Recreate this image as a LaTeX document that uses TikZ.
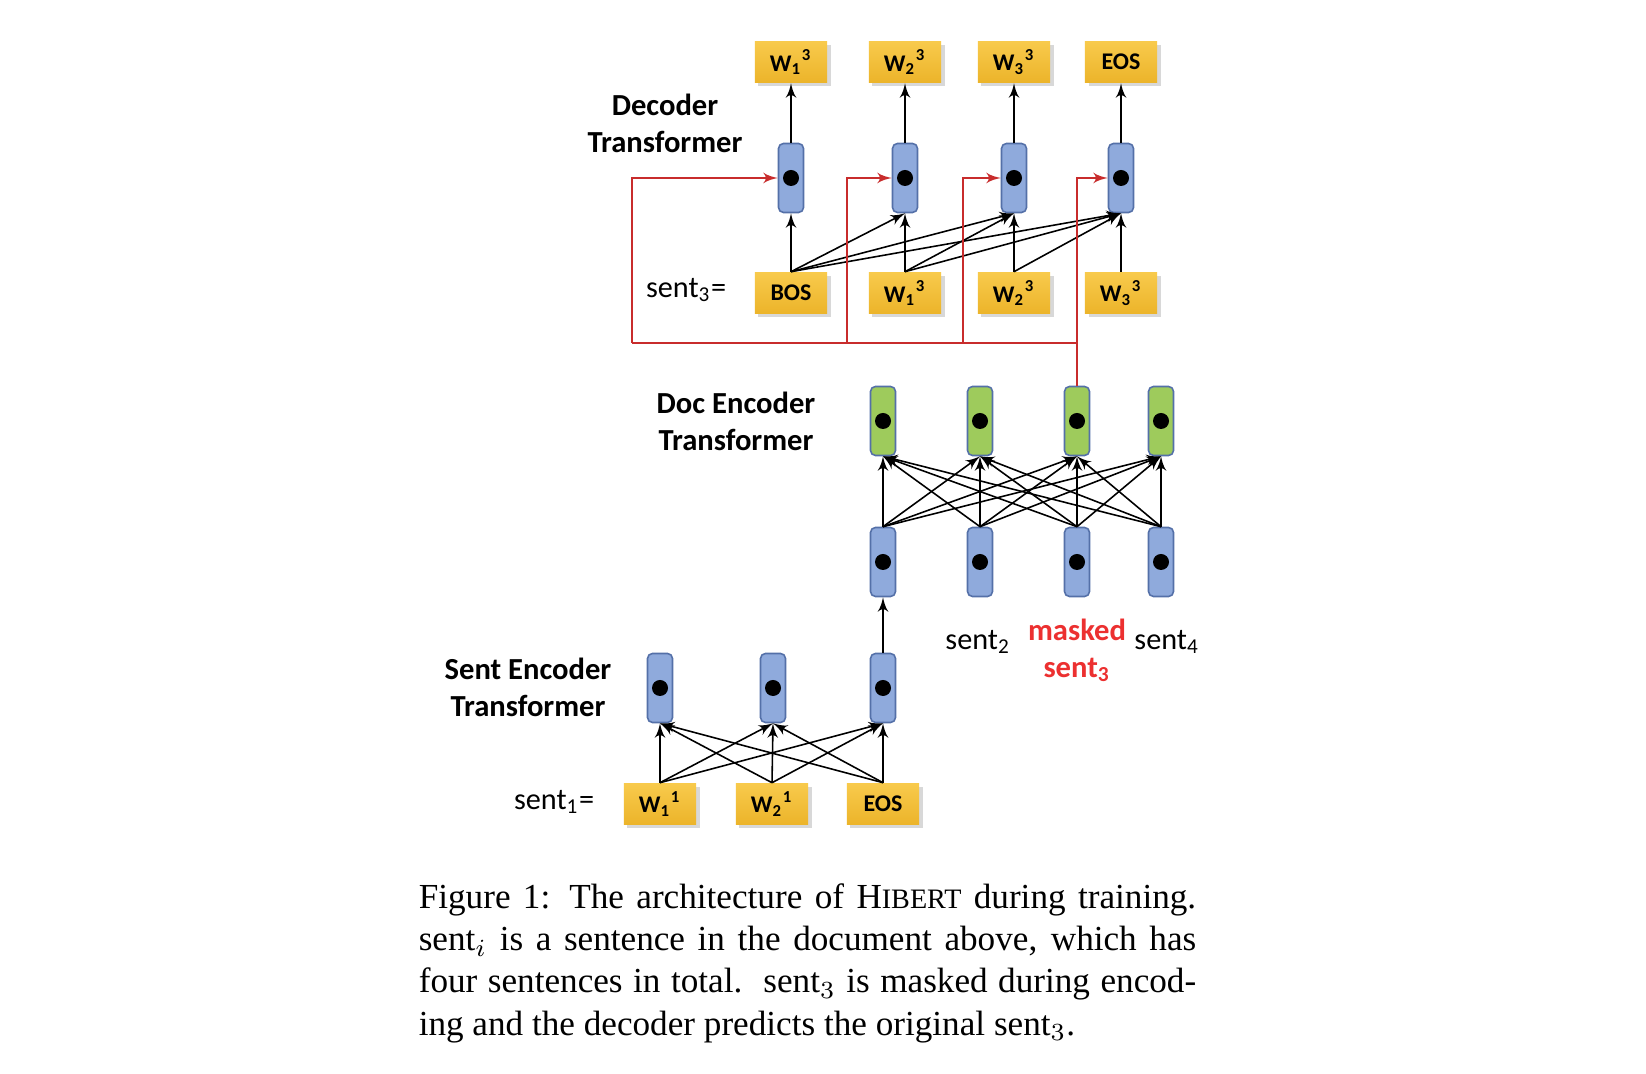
\documentclass[tikz,border=0pt]{standalone}
\usepackage{fontspec}
\setmainfont{Liberation Serif}
\newfontfamily\calibri{Carlito}
\usepackage{tikz}
\usetikzlibrary{positioning,arrows,shadows}

\definecolor{tokyellow}{RGB}{248,202,76}
\definecolor{tokyellowdark}{RGB}{236,180,42}
\definecolor{vecblue}{RGB}{143,170,220}
\definecolor{vecblueline}{RGB}{84,112,168}
\definecolor{vecgreen}{RGB}{158,203,92}
\definecolor{maskred}{RGB}{236,48,48}
\definecolor{linkred}{RGB}{200,44,44}

\begin{document}
\begin{tikzpicture}[->,>=latex',x=0.01cm,y=-0.01cm,line width=0.45pt,
                    font=\calibri]
  \tikzstyle{word}=[rectangle, minimum width=0.72cm, minimum height=0.41cm,
     inner sep=0pt, top color=tokyellow, bottom color=tokyellowdark,
     drop shadow={opacity=0.3, shadow xshift=0.035cm, shadow yshift=-0.035cm},
     font=\calibri\bfseries\fontsize{6.8}{8}\selectfont]
  \tikzstyle{vec}=[rectangle, rounded corners=0.05cm, minimum width=0.25cm,
     minimum height=0.69cm, inner sep=0pt, fill=vecblue, draw=vecblueline,
     path picture={\fill[black] (path picture bounding box.center) circle (0.08cm);}]
  \tikzstyle{docvec}=[vec, fill=vecgreen]
  \tikzstyle{layer}=[align=center, inner sep=0pt,
     font=\calibri\bfseries\fontsize{8.7}{10.6}\selectfont]
  \tikzstyle{sent}=[inner sep=0pt, font=\calibri\fontsize{8.6}{10}\selectfont]

  \path[use as bounding box, fill=white] (0,0) rectangle (1646,1074);

  % decoder
  \foreach \i/\x in {1/791,2/905,3/1014,4/1121}
    \node[vec] (dec\i) at (\x,178) {};
  \node[word] (out1) at (791,62) {W\textsubscript{1}\textsuperscript{3}};
  \node[word] (out2) at (905,62) {W\textsubscript{2}\textsuperscript{3}};
  \node[word] (out3) at (1014,62) {W\textsubscript{3}\textsuperscript{3}};
  \node[word] (out4) at (1121,62) {EOS};
  \node[word] (in1) at (791,293) {BOS};
  \node[word] (in2) at (905,293) {W\textsubscript{1}\textsuperscript{3}};
  \node[word] (in3) at (1014,293) {W\textsubscript{2}\textsuperscript{3}};
  \node[word] (in4) at (1121,293) {W\textsubscript{3}\textsuperscript{3}};

  % doc encoder
  \foreach \i/\x in {1/883,2/980,3/1077,4/1161} {
    \node[docvec] (doc\i) at (\x,421) {};
    \node[vec] (sen\i) at (\x,562) {};
  }

  % sent encoder
  \foreach \i/\x in {1/660,2/773,3/883}
    \node[vec] (enc\i) at (\x,688) {};
  \node[word] (tok1) at (660,804) {W\textsubscript{1}\textsuperscript{1}};
  \node[word] (tok2) at (772,804) {W\textsubscript{2}\textsuperscript{1}};
  \node[word] (tok3) at (883,804) {EOS};

  % labels
  \node[layer, anchor=base] (declab) at (665,153) {Decoder\\Transformer};
  \node[layer, anchor=base] (doclab) at (736,451) {Doc Encoder\\Transformer};
  \node[layer, anchor=base] (enclab) at (528,717) {Sent Encoder\\Transformer};
  \node[sent, anchor=base east] (s3lab) at (727,298) {sent\textsubscript{3}=};
  \node[sent, anchor=base east] (s1lab) at (595,810) {sent\textsubscript{1}=};
  \node[sent, anchor=base] (s2) at (978,650) {sent\textsubscript{2}};
  \node[layer, text=maskred, anchor=base] (s3) at (1077,678) {masked\\sent\textsubscript{3}};
  \node[sent, anchor=base] (s4) at (1167,650) {sent\textsubscript{4}};

  % connections
  \foreach \i in {1,...,4} {
    \draw (dec\i) -- (out\i);
    \draw (in\i) -- (dec\i);
  }
  \foreach \i/\j in {1/2,1/3,1/4,2/3,2/4,3/4}
    \draw (in\i.north) -- (dec\j.south);
  \foreach \i in {1,...,4}
    \foreach \j in {1,...,4}
      \draw (sen\i.north) -- (doc\j.south);
  \foreach \i in {1,2,3}
    \foreach \j in {1,2,3}
      \draw (tok\i.north) -- (enc\j.south);
  \draw (enc3) -- (sen1);

  % masked sentence fed to the decoder
  \coordinate (k1) at (632,343);
  \coordinate (k2) at (847,343);
  \coordinate (k3) at (963,343);
  \draw[linkred,-] (doc3.north) |- (k1);
  \draw[linkred] (k1) |- (dec1.west);
  \draw[linkred] (k2) |- (dec2.west);
  \draw[linkred] (k3) |- (dec3.west);
  \draw[linkred] (doc3.north) |- (dec4.west);

  % caption
  \node[anchor=north west, text width=7.77cm, align=justify, inner sep=0pt,
        font=\rmfamily\fontsize{10}{12}\selectfont] (caption) at (418,883)
    {Figure 1: The architecture of H{\fontsize{8}{12}\selectfont IBERT} during training.\linebreak
     sent$_i$ is a sentence in the document above, which has\linebreak
     four sentences in total.\ \ sent$_3$ is masked during encod-\linebreak
     ing and the decoder predicts the original sent$_3$.};
\end{tikzpicture}
\end{document}
